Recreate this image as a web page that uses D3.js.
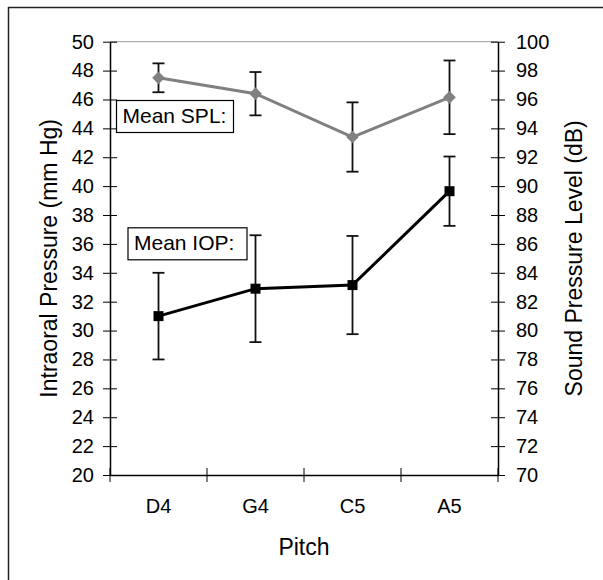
<!DOCTYPE html>
<html>
<head>
<meta charset="utf-8">
<script src="https://cdn.jsdelivr.net/npm/d3@7"></script>
<style>
  body { margin: 0; background: #fff; }
  svg text { font-family: "Liberation Sans", Arial, sans-serif; fill: #000; }
</style>
</head>
<body>
<svg width="603" height="580"></svg>
<script>
// pitches on the x axis
let pitches = ["D4", "G4", "C5", "A5"];

// intraoral pressure (mm Hg), left axis
let iopMean = [31.0, 32.9, 33.15, 39.65];
let iopErr = [3.0, 3.7, 3.4, 2.4];

// sound pressure level (dB), right axis
let splMean = [97.5, 96.4, 93.4, 96.15];
let splErr = [1.0, 1.5, 2.4, 2.55];

let leftTicks = d3.range(20, 51, 2);
let rightTicks = d3.range(70, 101, 2);

let plotLeft = 110, plotRight = 498, plotTop = 41.7, plotBottom = 475;

var svg = d3.select("svg");

// outer frame (only top and left edges show in the picture)
svg.append("rect")
    .attr("x", 8.5).attr("y", 7.5)
    .attr("width", 640).attr("height", 620)
    .attr("fill", "none")
    .attr("stroke", "#222")
    .attr("stroke-width", 1.5);

var x = d3.scaleBand()
    .domain(pitches)
    .range([plotLeft, plotRight]);

var yL = d3.scaleLinear()
    .domain([20, 50])
    .range([plotBottom, plotTop]);

var yR = d3.scaleLinear()
    .domain([70, 100])
    .range([plotBottom, plotTop]);

// top border of plot area
svg.append("line")
    .attr("x1", plotLeft).attr("x2", plotRight)
    .attr("y1", plotTop).attr("y2", plotTop)
    .attr("stroke", "#999")
    .attr("stroke-width", 1);

// left axis
var gL = svg.append("g")
    .attr("transform", `translate(${plotLeft},0)`)
    .call(d3.axisLeft(yL).tickValues(leftTicks).tickSize(7).tickSizeOuter(0).tickPadding(9));
gL.selectAll(".tick line").attr("x1", 7);

// right axis
var gR = svg.append("g")
    .attr("transform", `translate(${plotRight},0)`)
    .call(d3.axisRight(yR).tickValues(rightTicks).tickSize(7).tickSizeOuter(0).tickPadding(11));
gR.selectAll(".tick line").attr("x1", -7);

// bottom axis: labels at band centres
var gB = svg.append("g")
    .attr("transform", `translate(0,${plotBottom})`)
    .call(d3.axisBottom(x).tickSize(0).tickPadding(24));

// category boundary ticks
let boundaries = pitches.map(d => x(d)).concat([x(pitches[pitches.length - 1]) + x.bandwidth()]);
svg.selectAll(".btick")
    .data(boundaries)
    .enter()
    .append("line")
    .attr("class", "btick")
    .attr("x1", d => d).attr("x2", d => d)
    .attr("y1", plotBottom - 7).attr("y2", plotBottom + 7)
    .attr("stroke", "#000");

[gL, gR, gB].forEach(g => {
    g.selectAll(".domain").attr("stroke", "#000").attr("stroke-width", 1.5);
    g.selectAll(".tick line").attr("stroke", "#000");
    g.selectAll("text").attr("font-size", 20).attr("font-family", "Liberation Sans, Arial, sans-serif");
});

// axis titles
svg.append("text")
    .attr("transform", `translate(57,${(plotTop + plotBottom) / 2}) rotate(-90)`)
    .attr("text-anchor", "middle")
    .attr("font-size", 23)
    .text("Intraoral Pressure (mm Hg)");

svg.append("text")
    .attr("transform", `translate(582,${(plotTop + plotBottom) / 2}) rotate(-90)`)
    .attr("text-anchor", "middle")
    .attr("font-size", 23)
    .text("Sound Pressure Level (dB)");

svg.append("text")
    .attr("x", (plotLeft + plotRight) / 2)
    .attr("y", 555)
    .attr("text-anchor", "middle")
    .attr("font-size", 23)
    .text("Pitch");

let cx = d => x(d) + x.bandwidth() / 2;

function drawSeries(means, errs, y, color, symbol, size, rotate) {
    let data = pitches.map((p, i) => ({ p: p, m: means[i], e: errs[i] }));

    svg.append("path")
        .datum(data)
        .attr("fill", "none")
        .attr("stroke", color)
        .attr("stroke-width", 3)
        .attr("d", d3.line().x(d => cx(d.p)).y(d => y(d.m)));

    // error bars
    let eb = svg.append("g");
    eb.selectAll(".ev").data(data).enter().append("line")
        .attr("x1", d => cx(d.p)).attr("x2", d => cx(d.p))
        .attr("y1", d => y(d.m - d.e)).attr("y2", d => y(d.m + d.e))
        .attr("stroke", "#111").attr("stroke-width", 1.8);
    eb.selectAll(".et").data(data).enter().append("line")
        .attr("x1", d => cx(d.p) - 6).attr("x2", d => cx(d.p) + 6)
        .attr("y1", d => y(d.m + d.e)).attr("y2", d => y(d.m + d.e))
        .attr("stroke", "#111").attr("stroke-width", 1.8);
    eb.selectAll(".eb").data(data).enter().append("line")
        .attr("x1", d => cx(d.p) - 6).attr("x2", d => cx(d.p) + 6)
        .attr("y1", d => y(d.m - d.e)).attr("y2", d => y(d.m - d.e))
        .attr("stroke", "#111").attr("stroke-width", 1.8);

    svg.selectAll(".m" + color.replace("#", "")).data(data).enter().append("path")
        .attr("transform", d => `translate(${cx(d.p)},${y(d.m)}) rotate(${rotate})`)
        .attr("d", d3.symbol().type(symbol).size(size))
        .attr("fill", color);
}

drawSeries(splMean, splErr, yR, "#808080", d3.symbolSquare, 80, 45);
drawSeries(iopMean, iopErr, yL, "#000000", d3.symbolSquare, 100, 0);

// series labels in boxes
function labelBox(txt, bx, by, bw) {
    svg.append("rect")
        .attr("x", bx + 0.5).attr("y", by + 0.5)
        .attr("width", bw).attr("height", 32)
        .attr("fill", "#fff")
        .attr("stroke", "#000")
        .attr("stroke-width", 1.2);
    svg.append("text")
        .attr("x", bx + 6.5)
        .attr("y", by + 22.5)
        .attr("font-size", 21)
        .text(txt);
}
labelBox("Mean SPL:", 116, 100, 117);
labelBox("Mean IOP:", 127.5, 227.3, 119);
</script>
</body>
</html>
